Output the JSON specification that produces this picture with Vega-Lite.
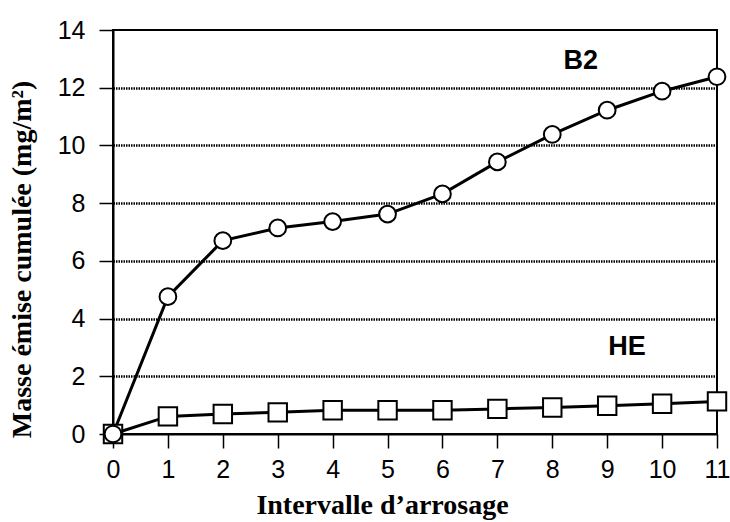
{
  "$schema": "https://vega.github.io/schema/vega-lite/v6.json",
  "width": 604,
  "height": 404,
  "autosize": {"type": "none"},
  "padding": {"left": 113, "top": 30, "right": 13, "bottom": 88},
  "background": "white",
  "config": {
    "view": {"stroke": "black", "strokeWidth": 2},
    "axis": {"labelFont": "Liberation Sans", "labelColor": "black", "titleFont": "Liberation Serif", "titleColor": "black", "titleFontWeight": "bold", "domainColor": "black", "tickColor": "black"}
  },
  "datasets": {
    "series": [
      {"intervalle": 0, "masse": 0, "serie": "HE"},
      {"intervalle": 1, "masse": 0.61, "serie": "HE"},
      {"intervalle": 2, "masse": 0.69, "serie": "HE"},
      {"intervalle": 3, "masse": 0.75, "serie": "HE"},
      {"intervalle": 4, "masse": 0.82, "serie": "HE"},
      {"intervalle": 5, "masse": 0.82, "serie": "HE"},
      {"intervalle": 6, "masse": 0.82, "serie": "HE"},
      {"intervalle": 7, "masse": 0.87, "serie": "HE"},
      {"intervalle": 8, "masse": 0.92, "serie": "HE"},
      {"intervalle": 9, "masse": 0.98, "serie": "HE"},
      {"intervalle": 10, "masse": 1.05, "serie": "HE"},
      {"intervalle": 11, "masse": 1.13, "serie": "HE"},
      {"intervalle": 0, "masse": 0, "serie": "B2"},
      {"intervalle": 1, "masse": 4.76, "serie": "B2"},
      {"intervalle": 2, "masse": 6.70, "serie": "B2"},
      {"intervalle": 3, "masse": 7.14, "serie": "B2"},
      {"intervalle": 4, "masse": 7.36, "serie": "B2"},
      {"intervalle": 5, "masse": 7.62, "serie": "B2"},
      {"intervalle": 6, "masse": 8.32, "serie": "B2"},
      {"intervalle": 7, "masse": 9.43, "serie": "B2"},
      {"intervalle": 8, "masse": 10.38, "serie": "B2"},
      {"intervalle": 9, "masse": 11.22, "serie": "B2"},
      {"intervalle": 10, "masse": 11.88, "serie": "B2"},
      {"intervalle": 11, "masse": 12.38, "serie": "B2"}
    ],
    "labels": [
      {"intervalle": 8.52, "masse": 12.93, "texte": "B2"},
      {"intervalle": 9.36, "masse": 3.01, "texte": "HE"}
    ]
  },
  "layer": [
    {
      "data": {"name": "series"},
      "mark": {"type": "line", "color": "black", "strokeWidth": 3},
      "encoding": {
        "x": {
          "field": "intervalle", "type": "quantitative",
          "scale": {"domain": [0, 11], "nice": false, "zero": false},
          "axis": {
            "values": [0,1,2,3,4,5,6,7,8,9,10,11],
            "format": "d",
            "title": "Intervalle d’arrosage",
            "titleFontSize": 28,
            "titleX": 269, "titleY": 79, "titleAnchor": null, "titleAlign": "center", "titleBaseline": "alphabetic",
            "labelFontSize": 25, "labelPadding": 9,
            "tickSize": 14, "tickWidth": 1.5, "domainWidth": 2,
            "grid": false, "labelFlush": false
          }
        },
        "y": {
          "field": "masse", "type": "quantitative",
          "scale": {"domain": [0, 14], "nice": false},
          "axis": {
            "values": [0,0.5,1,1.5,2,2.5,3,3.5,4,4.5,5,5.5,6,6.5,7,7.5,8,8.5,9,9.5,10,10.5,11,11.5,12,12.5,13,13.5,14],
            "labelExpr": "datum.value % 2 === 0 ? datum.label : ''",
            "title": "Masse émise cumulée (mg/m²)",
            "titleFontSize": 28,
            "titleX": -91, "titleY": 229, "titleAngle": 270, "titleAlign": "center", "titleBaseline": "middle",
            "labelFontSize": 25, "labelPadding": 14,
            "tickSize": {"condition": {"test": "datum.value % 2 === 0", "value": 14}, "value": 8},
            "tickWidth": 1.5, "domainWidth": 2,
            "grid": true,
            "gridColor": "black",
            "gridWidth": 2.5,
            "gridDash": [1.5, 1],
            "gridOpacity": {"condition": {"test": "datum.value % 2 === 0 && datum.value > 0 && datum.value < 14", "value": 1}, "value": 0},
            "labelFlush": false
          }
        },
        "detail": {"field": "serie"}
      }
    },
    {
      "data": {"name": "series"},
      "mark": {"type": "point", "filled": false, "fill": "white", "fillOpacity": 1, "stroke": "black", "strokeWidth": 2, "opacity": 1},
      "encoding": {
        "x": {"field": "intervalle", "type": "quantitative"},
        "y": {"field": "masse", "type": "quantitative"},
        "shape": {"field": "serie", "type": "nominal", "scale": {"domain": ["B2", "HE"], "range": ["circle", "square"]}, "legend": null},
        "size": {"field": "serie", "type": "nominal", "scale": {"domain": ["B2", "HE"], "range": [280, 340]}, "legend": null}
      }
    },
    {
      "data": {"name": "labels"},
      "mark": {"type": "text", "font": "Liberation Sans", "fontWeight": "bold", "fontSize": 27, "color": "black", "align": "center", "baseline": "middle"},
      "encoding": {
        "x": {"field": "intervalle", "type": "quantitative"},
        "y": {"field": "masse", "type": "quantitative"},
        "text": {"field": "texte"}
      }
    }
  ]
}
